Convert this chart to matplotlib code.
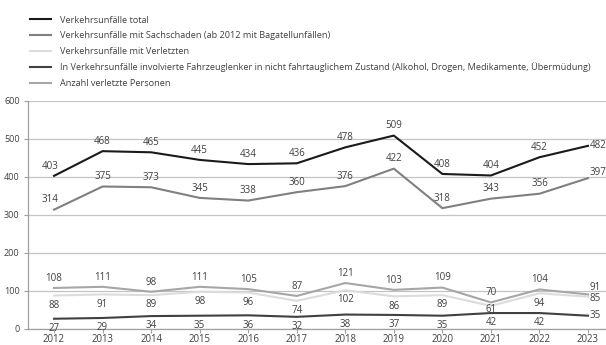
import matplotlib.pyplot as plt

plt.rcParams['font.family'] = ['Open Sans', 'DejaVu Sans']

years = list(range(2012, 2024))

total = [403, 468, 465, 445, 434, 436, 478, 509, 408, 404, 452, 482]
sachschaden = [314, 375, 373, 345, 338, 360, 376, 422, 318, 343, 356, 397]
verletzten = [88, 91, 89, 98, 96, 74, 102, 86, 89, 61, 94, 85]
fahrzeuglenker = [27, 29, 34, 35, 36, 32, 38, 37, 35, 42, 42, 35]
personen = [108, 111, 98, 111, 105, 87, 121, 103, 109, 70, 104, 91]

names = [
    "Verkehrsunfälle total",
    "Verkehrsunfälle mit Sachschaden (ab 2012 mit Bagatellunfällen)",
    "Verkehrsunfälle mit Verletzten",
    "In Verkehrsunfälle involvierte Fahrzeuglenker in nicht fahrtauglichem Zustand (Alkohol, Drogen, Medikamente, Übermüdung)",
    "Anzahl verletzte Personen",
]

# (values, colour, label side, label offsets that differ from the default)
series = [
    (total, "#1a1a1a", 1, {0: (-3, 7), 11: (1, 0)}),
    (sachschaden, "#808080", 1, {0: (-3, 7), 11: (1, 4)}),
    (verletzten, "#dcdcdc", -1, {9: (0, -3), 11: (1, -1)}),
    (fahrzeuglenker, "#404040", -1, {11: (1, 0)}),
    (personen, "#a6a6a6", 1, {11: (1, 5)}),
]

fig = plt.figure(figsize=(6.06, 3.45), dpi=100)
ax = fig.add_axes([28 / 606, 16 / 345, 578 / 606, 228 / 345])

for (vals, col, side, special), name in zip(series, names):
    ax.plot(years, vals, color=col, lw=1.5, label=name, zorder=3)
    for i, (x, v) in enumerate(zip(years, vals)):
        off = special.get(i, (0, 7 * side))
        ha = "left" if i == len(vals) - 1 else "center"
        ax.annotate(str(v), (x, v), xytext=off, textcoords="offset points",
                    ha=ha, va="center", fontsize=7, color="#404040",
                    zorder=4, clip_on=False)

ax.set_xlim(2011.464, 2023.371)
ax.set_ylim(0, 600)
ax.set_yticks(range(0, 700, 100))
ax.set_xticks(years)
ax.grid(axis="y", color="#c4c4c4", lw=0.9)
ax.set_axisbelow(True)
for s in ["top", "right"]:
    ax.spines[s].set_visible(False)
for s in ["left", "bottom"]:
    ax.spines[s].set_color("#a0a0a0")
    ax.spines[s].set_linewidth(0.9)
ax.tick_params(axis="y", length=3, color="#a0a0a0", labelsize=6.5,
               labelcolor="#404040", pad=3)
ax.tick_params(axis="x", length=3, color="#a0a0a0", labelsize=6.9,
               labelcolor="#404040", pad=0.5)

handles, labels = ax.get_legend_handles_labels()
fig.legend(handles, labels, loc="upper left", bbox_to_anchor=(26 / 606, 1 - 12 / 345),
           frameon=False, fontsize=6.6, labelcolor="#404040", handlelength=2.3,
           handletextpad=1.0, labelspacing=0.72, borderaxespad=0)

fig.savefig("out.png", dpi=100)
